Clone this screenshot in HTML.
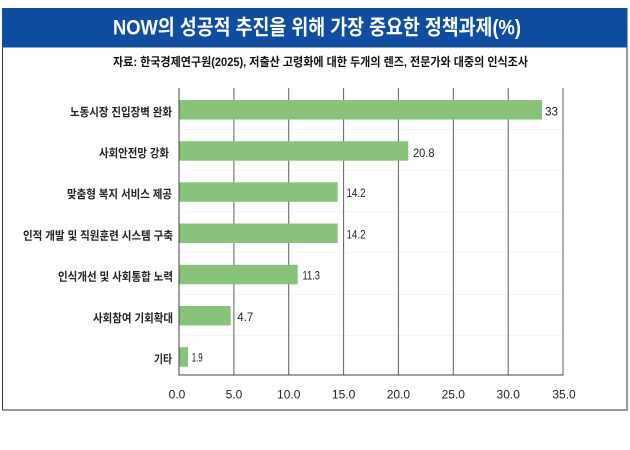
<!DOCTYPE html>
<html>
<head>
<meta charset="utf-8">
<style>
html,body{margin:0;padding:0;background:#fff;}
svg{display:block;}
</style>
</head>
<body>
<svg width="630" height="450" viewBox="0 0 630 450" xmlns="http://www.w3.org/2000/svg">
  <rect x="0" y="0" width="630" height="450" fill="#ffffff"/>
  <!-- frame -->
  <rect x="2.5" y="8.5" width="624.5" height="401.5" fill="#ffffff" stroke="#333333" stroke-width="1"/>
  <!-- header -->
  <rect x="2" y="8" width="625.5" height="39.5" fill="#0d4ea1"/>
  <text x="317" y="34.5" text-anchor="middle" textLength="408" lengthAdjust="spacingAndGlyphs"
        font-family="'Liberation Sans','Noto Sans CJK KR',sans-serif" font-weight="700" font-size="21" fill="#ffffff">NOW의 성공적 추진을 위해 가장 중요한 정책과제(%)</text>
  <!-- subtitle -->
  <text x="320.5" y="65.8" text-anchor="middle" textLength="415" lengthAdjust="spacingAndGlyphs"
        font-family="'Liberation Sans','Noto Sans CJK KR',sans-serif" font-weight="700" font-size="12" fill="#111111">자료: 한국경제연구원(2025), 저출산 고령화에 대한 두개의 렌즈, 전문가와 대중의 인식조사</text>

  <!-- faint horizontal lines -->
  <g stroke="#f5f5f5" stroke-width="1">
    <line x1="179" y1="129.5" x2="563" y2="129.5"/>
    <line x1="179" y1="170.5" x2="563" y2="170.5"/>
    <line x1="179" y1="211.5" x2="563" y2="211.5"/>
    <line x1="179" y1="252.5" x2="563" y2="252.5"/>
    <line x1="179" y1="294.5" x2="563" y2="294.5"/>
    <line x1="179" y1="335.5" x2="563" y2="335.5"/>
  </g>

  <!-- vertical gridlines -->
  <g stroke="#5e5e5e" stroke-width="1">
    <line x1="233.9" y1="88" x2="233.9" y2="375"/>
    <line x1="288.7" y1="88" x2="288.7" y2="375"/>
    <line x1="343.6" y1="88" x2="343.6" y2="375"/>
    <line x1="398.4" y1="88" x2="398.4" y2="375"/>
    <line x1="453.3" y1="88" x2="453.3" y2="375"/>
    <line x1="508.2" y1="88" x2="508.2" y2="375"/>
    <line x1="563" y1="88" x2="563" y2="375"/>
  </g>

  <!-- bars -->
  <g fill="#87c47a">
    <rect x="179" y="100" width="363" height="19.5"/>
    <rect x="179" y="141.2" width="229.3" height="19.5"/>
    <rect x="179" y="182.3" width="158.7" height="19.5"/>
    <rect x="179" y="223.5" width="158.7" height="19.5"/>
    <rect x="179" y="264.8" width="118.7" height="19.5"/>
    <rect x="179" y="306" width="51.7" height="19.5"/>
    <rect x="179" y="347.2" width="9" height="19.5"/>
  </g>

  <!-- axes -->
  <line x1="179" y1="88" x2="179" y2="375.5" stroke="#444" stroke-width="1"/>
  <line x1="178.5" y1="375" x2="563.5" y2="375" stroke="#444" stroke-width="1"/>

  <!-- category labels -->
  <g font-family="'Liberation Sans','Noto Sans CJK KR',sans-serif" font-weight="700" font-size="11.5" fill="#222222" text-anchor="end">
    <text x="172" y="115.8" textLength="102" lengthAdjust="spacingAndGlyphs">노동시장 진입장벽 완화</text>
    <text x="169" y="157" textLength="70" lengthAdjust="spacingAndGlyphs">사회안전망 강화</text>
    <text x="172" y="198.2" textLength="105" lengthAdjust="spacingAndGlyphs">맞춤형 복지 서비스 제공</text>
    <text x="173" y="239.4" textLength="150" lengthAdjust="spacingAndGlyphs">인적 개발 및 직원훈련 시스템 구축</text>
    <text x="173" y="280.6" textLength="115" lengthAdjust="spacingAndGlyphs">인식개선 및 사회통합 노력</text>
    <text x="173" y="321.8" textLength="80" lengthAdjust="spacingAndGlyphs">사회참여 기회확대</text>
    <text x="172" y="363" textLength="18" lengthAdjust="spacingAndGlyphs">기타</text>
  </g>

  <!-- value labels -->
  <g font-family="'Liberation Sans',sans-serif" font-size="12" fill="#222222">
    <text x="545" y="115.3" textLength="13" lengthAdjust="spacingAndGlyphs">33</text>
    <text x="413" y="157" textLength="21.5" lengthAdjust="spacingAndGlyphs">20.8</text>
    <text x="346.5" y="197" textLength="19" lengthAdjust="spacingAndGlyphs">14.2</text>
    <text x="346.5" y="238.6" textLength="19" lengthAdjust="spacingAndGlyphs">14.2</text>
    <text x="302.5" y="279.3" textLength="17.5" lengthAdjust="spacingAndGlyphs">11.3</text>
    <text x="237.3" y="321" textLength="16" lengthAdjust="spacingAndGlyphs">4.7</text>
    <text x="191.7" y="361.3" textLength="11" lengthAdjust="spacingAndGlyphs">1.9</text>
  </g>

  <!-- x tick labels -->
  <g font-family="'Liberation Sans',sans-serif" font-size="12" fill="#222222" text-anchor="middle">
    <text x="177" y="398.6">0.0</text>
    <text x="234" y="398.6">5.0</text>
    <text x="288.7" y="398.6">10.0</text>
    <text x="343.6" y="398.6">15.0</text>
    <text x="398.4" y="398.6">20.0</text>
    <text x="453.3" y="398.6">25.0</text>
    <text x="508.2" y="398.6">30.0</text>
    <text x="564" y="398.6">35.0</text>
  </g>
</svg>
</body>
</html>
